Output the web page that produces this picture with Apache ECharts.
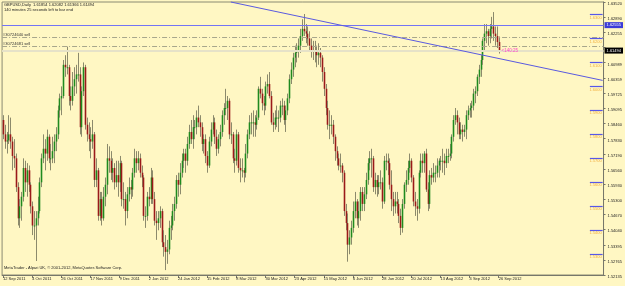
<!DOCTYPE html>
<html><head><meta charset="utf-8">
<script src="https://cdn.jsdelivr.net/npm/echarts@6/dist/echarts.min.js"></script>
<style>html,body{margin:0;padding:0;background:#fff7c3}#c{width:625px;height:286px}</style>
</head><body><div id="c"></div>
<script>
// OHLC in pips (price * 10000)
const opens = [15860,15800,15770,15775,15800,15770,15710,15700,15580,15450,15500,15540,15660,15600,15650,15590,15500,15420,15420,15450,
15480,15600,15700,15740,15720,15790,15700,15700,15730,15770,15800,15900,15950,15960,16090,16080,16080,15960,15940,16000,
16030,16050,16050,15830,15980,16080,15840,15800,15780,15770,15800,15610,15650,15460,15530,15450,15540,15590,15700,15690,
15640,15660,15600,15630,15600,15680,15530,15530,15480,15550,15580,15570,15640,15700,15680,15700,15640,15620,15460,15460,
15540,15530,15620,15530,15440,15430,15450,15480,15350,15330,15310,15320,15410,15420,15480,15510,15610,15590,15640,15690,
15720,15690,15760,15810,15780,15830,15830,15870,15850,15830,15760,15780,15710,15670,15770,15820,15850,15790,15740,15780,
15810,15880,15910,15910,15940,15800,15800,15700,15690,15800,15660,15650,15650,15640,15720,15800,15850,15850,15850,15840,
15870,15990,15970,15930,15920,16000,16010,15960,15850,15840,15870,15870,15870,15920,15920,15860,15900,15950,16030,16070,
16120,16140,16150,16170,16210,16240,16230,16220,16200,16170,16150,16150,16150,16130,16140,16120,16060,15990,15910,15840,
15840,15840,15790,15730,15700,15670,15670,15640,15480,15430,15340,15370,15410,15480,15520,15450,15480,15560,15510,15550,
15610,15680,15700,15700,15580,15610,15580,15600,15600,15520,15690,15690,15680,15590,15530,15500,15520,15510,15460,15410,
15510,15590,15610,15660,15690,15620,15520,15500,15490,15640,15690,15680,15720,15570,15510,15630,15620,15640,15640,15670,
15690,15690,15690,15680,15710,15710,15720,15790,15860,15880,15850,15800,15820,15810,15820,15880,15900,15910,15920,15970,
15980,16040,16070,16110,16190,16220,16230,16210,16240,16250,16220,16210,16185];
const highs = [15880,15840,15810,15880,15870,15790,15780,15720,15600,15530,15560,15700,15690,15680,15670,15600,15520,15480,15480,15540,
15620,15720,15800,15780,15820,15800,15760,15790,15800,15830,15920,15970,16000,16110,16130,16166,16090,16000,16060,16080,
16090,16140,16080,16000,16100,16090,15870,15850,15830,15860,15810,15700,15660,15560,15560,15580,15620,15760,15750,15730,
15700,15680,15690,15690,15710,15690,15600,15560,15580,15620,15610,15660,15740,15730,15730,15720,15670,15630,15500,15560,
15580,15660,15650,15560,15480,15480,15500,15490,15400,15380,15360,15440,15460,15510,15540,15630,15640,15680,15720,15740,
15740,15790,15840,15860,15880,15860,15900,15920,15880,15850,15800,15800,15730,15790,15850,15880,15870,15820,15800,15840,
15900,15930,15990,15960,15950,15850,15810,15740,15820,15810,15700,15700,15660,15760,15820,15880,15890,15900,15880,15900,
16000,16040,15990,15960,16020,16050,16060,15980,15890,15900,15920,15900,15940,15950,15940,15920,15970,16050,16100,16140,
16170,16180,16200,16240,16280,16302,16260,16250,16230,16200,16190,16190,16170,16180,16160,16130,16080,16010,15940,15900,
15880,15860,15800,15750,15720,15720,15680,15650,15510,15470,15400,15440,15520,15560,15530,15520,15580,15580,15580,15640,
15700,15730,15740,15710,15640,15630,15630,15650,15620,15710,15720,15720,15700,15650,15560,15560,15560,15530,15490,15530,
15600,15650,15690,15720,15700,15630,15560,15530,15650,15720,15720,15730,15740,15600,15650,15660,15680,15670,15700,15700,
15710,15740,15720,15740,15740,15760,15800,15880,15910,15900,15870,15850,15840,15840,15900,15920,15930,15940,15990,16000,
16050,16090,16130,16200,16260,16260,16240,16260,16290,16310,16250,16250,16208];
const lows = [15780,15740,15720,15760,15740,15650,15660,15560,15420,15410,15440,15520,15560,15540,15560,15470,15380,15360,15272,15420,
15470,15580,15680,15650,15690,15680,15650,15680,15680,15730,15780,15870,15880,15950,16040,16050,15920,15900,15920,15960,
15970,16020,15800,15790,15960,15820,15770,15730,15700,15740,15580,15580,15440,15440,15420,15440,15500,15550,15640,15610,
15600,15570,15580,15540,15560,15500,15490,15420,15450,15520,15530,15540,15620,15640,15650,15620,15580,15440,15410,15440,
15500,15510,15510,15420,15360,15400,15410,15330,15290,15234,15260,15300,15360,15400,15440,15490,15540,15550,15620,15660,
15640,15670,15740,15760,15740,15780,15800,15830,15790,15730,15720,15680,15640,15660,15750,15800,15760,15710,15720,15750,
15790,15840,15880,15860,15780,15760,15680,15640,15670,15640,15600,15620,15600,15620,15700,15780,15800,15790,15790,15820,
15860,15950,15900,15880,15900,15970,15950,15840,15810,15820,15830,15810,15850,15880,15840,15810,15880,15930,16010,16040,
16080,16100,16120,16140,16190,16210,16180,16170,16150,16120,16110,16100,16080,16090,16080,16020,15960,15880,15820,15780,
15800,15760,15690,15670,15650,15640,15600,15460,15400,15269,15300,15340,15390,15450,15420,15410,15440,15480,15480,15530,
15590,15650,15620,15560,15550,15540,15550,15570,15490,15510,15650,15630,15570,15480,15460,15470,15470,15430,15380,15390,
15490,15560,15590,15640,15600,15500,15460,15440,15470,15620,15640,15640,15560,15480,15490,15590,15600,15600,15620,15620,
15650,15640,15630,15660,15680,15690,15700,15770,15840,15800,15780,15780,15770,15790,15780,15860,15870,15870,15900,15930,
15960,16010,16040,16090,16150,16180,16170,16180,16200,16190,16170,16160,16137];
const closes = [15800,15770,15775,15800,15770,15710,15700,15580,15450,15500,15540,15660,15600,15650,15590,15500,15420,15420,15450,15480,
15600,15700,15740,15720,15790,15700,15700,15730,15770,15800,15900,15950,15960,16090,16080,16080,15960,15940,16000,16030,
16050,16050,15830,15980,16080,15840,15800,15780,15770,15800,15610,15650,15460,15530,15450,15540,15590,15700,15690,15640,
15660,15600,15630,15600,15680,15530,15530,15480,15550,15580,15570,15640,15700,15680,15700,15640,15620,15460,15460,15540,
15530,15620,15530,15440,15430,15450,15480,15350,15330,15310,15320,15410,15420,15480,15510,15610,15590,15640,15690,15720,
15690,15760,15810,15780,15830,15830,15870,15850,15830,15760,15780,15710,15670,15770,15820,15850,15790,15740,15780,15810,
15880,15910,15910,15940,15800,15800,15700,15690,15800,15660,15650,15650,15640,15720,15800,15850,15850,15850,15840,15870,
15990,15970,15930,15920,16000,16010,15960,15850,15840,15870,15870,15870,15920,15920,15860,15900,15950,16030,16070,16120,
16140,16150,16170,16210,16240,16230,16220,16200,16170,16150,16150,16150,16130,16140,16120,16060,15990,15910,15840,15840,
15840,15790,15730,15700,15670,15670,15640,15480,15430,15340,15370,15410,15480,15520,15450,15480,15560,15510,15550,15610,
15680,15700,15700,15580,15610,15580,15600,15600,15520,15690,15690,15680,15590,15530,15500,15520,15510,15460,15410,15510,
15590,15610,15660,15690,15620,15520,15500,15490,15640,15690,15680,15720,15570,15510,15630,15620,15640,15640,15670,15690,
15690,15690,15680,15710,15710,15720,15790,15860,15880,15850,15800,15820,15810,15820,15880,15900,15910,15920,15970,15980,
16040,16070,16110,16190,16220,16230,16210,16240,16250,16220,16210,16185,16149];

const priceTicks = [1.63520,1.62890,1.62255,1.61625,1.60989,1.60359,1.59725,1.59095,1.58460,1.57830,
  1.57190,1.56560,1.55930,1.55300,1.54670,1.54040,1.53395,1.52765,1.52135];
const roundLevels = [1.63,1.62,1.61,1.60,1.59,1.58,1.57,1.56,1.55,1.54,1.53];
const roundLabels = ['1.6300','1.6200','1.6100','1.6000','1.5900','1.5800','1.5700','1.5600','1.5500','1.5400','1.5300'];
const levelLine = 1.62555;
const bidPrice = 1.61494;
const orders = [{name:'#30724640 sell', price:1.6204},{name:'#30724681 sell', price:1.6166}];
const trendStart = [125, 1.6352], trendEnd = [329, 1.6025];
const headerLine1 = 'GBPUSD,Daily  1.61854 1.62082 1.61366 1.61494';
const headerLine2 = '140 minutes 25 seconds left to bar end';
const footer = 'MetaTrader - Alpari UK, \u00a9 2001-2012, MetaQuotes Software Corp.';
const timerText = '<140:25';

const nBars = closes.length, nSlots = 330;
const months = ['Jan','Feb','Mar','Apr','May','Jun','Jul','Aug','Sep','Oct','Nov','Dec'];
const categories = [];
let d = new Date(2011, 8, 12);
while (categories.length < nBars) {
  const wd = d.getDay();
  if (wd !== 0 && wd !== 6) categories.push(d.getDate() + ' ' + months[d.getMonth()] + ' ' + d.getFullYear());
  d.setDate(d.getDate() + 1);
}
for (let i = nBars; i < nSlots; i++) categories.push('_' + i);

const ohlc = closes.map((c, i) => [i, opens[i] / 1e4, highs[i] / 1e4, lows[i] / 1e4, c / 1e4]);

const FONT = 'Liberation Sans';
const fs = 4;
const chart = echarts.init(document.getElementById('c'), null, {renderer: 'canvas'});

const markLines = [
  {yAxis: levelLine, lineStyle: {color: '#7474f4', width: 1, type: 'solid'},
   label: {show: true, position: 'end', formatter: levelLine.toFixed(5), backgroundColor: '#3c3cd8', color: '#fff',
     fontSize: fs, fontFamily: FONT, padding: [1, 2], distance: 1}},
  {yAxis: bidPrice, lineStyle: {color: '#e6e2c8', width: 2, type: 'solid'},
   label: {show: true, position: 'end', formatter: bidPrice.toFixed(5), backgroundColor: '#000', color: '#fff',
     fontSize: fs, fontFamily: FONT, padding: [1, 2], distance: 1}},
];
orders.forEach(o => markLines.push({yAxis: o.price, lineStyle: {color: '#a8a68c', width: 1, type: [5, 2, 1, 2]},
  label: {show: true, position: 'insideStartTop', formatter: o.name, color: '#333', fontSize: fs, fontFamily: FONT, distance: 1}}));
roundLevels.forEach((lv, k) => markLines.push([
  {coord: [322, lv], lineStyle: {color: '#5858e8', width: 1.2, type: 'solid'},
   label: {show: true, position: 'insideEndBottom', formatter: roundLabels[k], color: '#f2b040', fontSize: fs, fontFamily: FONT, distance: 1}},
  {coord: [329, lv]}]));
markLines.push([{coord: trendStart, lineStyle: {color: '#5a5ae0', width: 1, type: 'solid'}, label: {show: false}}, {coord: trendEnd}]);

chart.setOption({
  backgroundColor: '#fff7c3',
  animation: false,
  grid: {left: 1, right: 18, top: 2, height: 273, show: true, borderColor: '#8a8a72', borderWidth: 1, backgroundColor: 'transparent'},
  xAxis: {type: 'category', data: categories, boundaryGap: true,
    axisLine: {show: true, lineStyle: {color: '#77776a', width: 1}},
    axisTick: {show: true, length: 3, alignWithLabel: true, interval: (i) => i % 16 === 0 && i < nBars, lineStyle: {color: '#77776a'}},
    axisLabel: {show: true, interval: (i) => i % 16 === 0 && i < nBars, align: 'left', margin: 2, fontSize: fs, fontFamily: FONT, color: '#222'},
    splitLine: {show: false}},
  yAxis: {type: 'value', position: 'right', min: 1.52135, max: 1.63520, scale: true,
    axisLine: {show: true, lineStyle: {color: '#77776a', width: 1}},
    axisTick: {show: true, length: 2, customValues: priceTicks, lineStyle: {color: '#77776a'}},
    axisLabel: {show: true, customValues: priceTicks, formatter: (v) => v.toFixed(5), margin: 4, fontSize: fs, fontFamily: FONT, color: '#222', verticalAlign: 'top'},
    splitLine: {show: false}},
  graphic: [
    {type: 'text', left: 4, top: 3, style: {text: headerLine1, fontSize: fs, fontFamily: FONT, fill: '#222'}},
    {type: 'text', left: 4, top: 8, style: {text: headerLine2, fontSize: fs, fontFamily: FONT, fill: '#222'}},
    {type: 'text', left: 4, top: 266, style: {text: footer, fontSize: fs, fontFamily: FONT, fill: '#222'}},
  ],
  series: [{
    type: 'custom', data: ohlc, encode: {x: 0, y: [1, 2, 3, 4]}, clip: true,
    renderItem: function (params, api) {
      const i = api.value(0), o = api.value(1), h = api.value(2), l = api.value(3), c = api.value(4);
      const pO = api.coord([i, o]), pC = api.coord([i, c]), pH = api.coord([i, h]), pL = api.coord([i, l]);
      const x = Math.round(pO[0]) + 0.5;
      const top = Math.min(pO[1], pC[1]), hh = Math.max(Math.abs(pO[1] - pC[1]), 1);
      return {type: 'group', children: [
        {type: 'line', shape: {x1: x, y1: pH[1], x2: x, y2: pL[1]}, style: {stroke: '#8c8a6c', lineWidth: 1}},
        {type: 'rect', shape: {x: x - 0.8, y: top, width: 1.6, height: hh}, style: {fill: c >= o ? '#1f8a1f' : '#9a1a1a'}}
      ]};
    },
    markLine: {symbol: ['none', 'none'], silent: true, animation: false, precision: 6, data: markLines},
    markPoint: {symbol: 'circle', symbolSize: 0, silent: true, data: [{coord: [273, bidPrice - 0.0001],
      label: {show: true, position: 'right', distance: 1, formatter: timerText, color: '#ff44cc', fontSize: fs + 0.5, fontFamily: FONT}}]}
  }]
});
</script></body></html>
